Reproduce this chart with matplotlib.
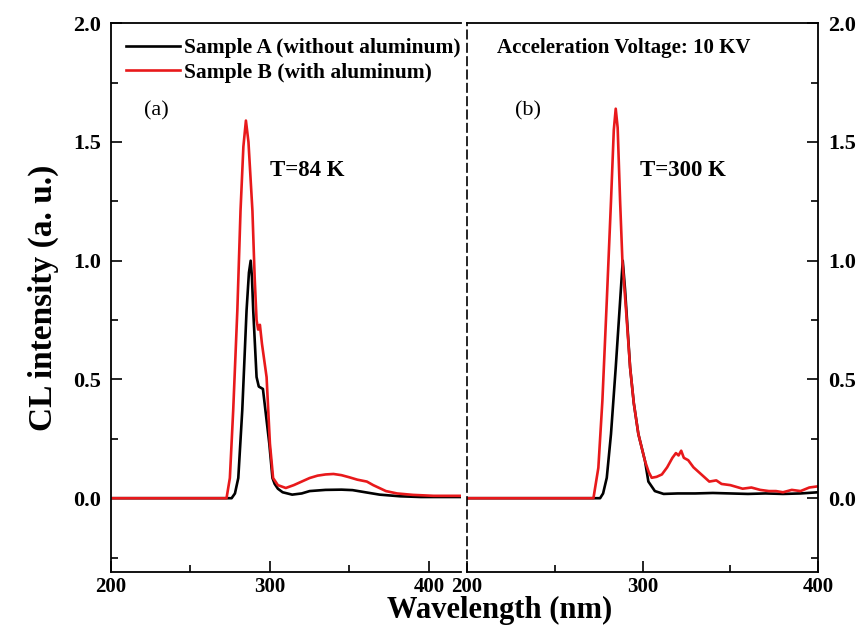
import numpy as np
import matplotlib
matplotlib.use('Agg')
import matplotlib.pyplot as plt
from matplotlib.ticker import MultipleLocator

plt.rcParams['font.family'] = ['Liberation Serif', 'DejaVu Serif']

# panel (a), T = 84 K
wl_a_A = [200, 275.9, 278, 280.1, 282.6, 285.3, 286.8, 287.9, 288.7, 289.5, 291.6, 293,
          295.6, 297, 299.6, 301.6, 303, 305, 308, 314, 320, 325, 335, 345,
          352, 360, 369, 382, 395, 420]
cl_a_A = [0, 0, 0.02, 0.085, 0.37, 0.79, 0.95, 1.0, 0.93, 0.79, 0.51, 0.47,
          0.46, 0.38, 0.23, 0.085, 0.06, 0.04, 0.025, 0.015, 0.02, 0.03, 0.035, 0.036,
          0.034, 0.025, 0.015, 0.008, 0.005, 0.005]
wl_a_B = [200, 272.7, 274.8, 276.9, 279.5, 281.5, 283.3, 284.9, 286.5, 289, 290.4, 291.6,
          292.6, 293.7, 295, 297.9, 300, 302, 305, 310, 315, 320, 325,
          330, 335, 340, 345, 350, 355, 361, 365, 373, 380, 390, 403, 420]
cl_a_B = [0, 0, 0.085, 0.37, 0.79, 1.21, 1.48, 1.59, 1.5, 1.21, 0.93, 0.75,
          0.71, 0.73, 0.65, 0.51, 0.23, 0.085, 0.055, 0.043, 0.055, 0.07, 0.085,
          0.095, 0.1, 0.102, 0.097, 0.088, 0.078, 0.07, 0.055, 0.03, 0.02, 0.014, 0.01, 0.01]

# panel (b), T = 300 K
wl_b_A = [200, 275.8, 277.5, 279.6, 282, 284.7, 287.2, 288.7, 290, 292.9, 295, 297.6,
          301.4, 303.3, 307, 312, 320, 330, 340, 350, 360, 370, 380, 390, 400]
cl_b_A = [0, 0, 0.02, 0.086, 0.27, 0.55, 0.83, 1.0, 0.88, 0.55, 0.4, 0.27,
          0.156, 0.07, 0.03, 0.018, 0.02, 0.02, 0.022, 0.02, 0.018, 0.02, 0.018, 0.02, 0.025]
wl_b_B = [200, 272, 274.8, 277.1, 279.6, 282, 283.6, 284.7, 285.8, 287.2, 288.5, 290.5,
          292.9, 295, 297.6, 301.4, 303.5, 305.2, 308, 311, 314, 317, 319,
          320.5, 322, 323.5, 326, 329, 332, 335, 338, 342, 345, 350, 357, 362, 367, 372,
          376, 380, 385, 390, 395, 400]
cl_b_B = [0, 0, 0.128, 0.41, 0.83, 1.25, 1.55, 1.64, 1.56, 1.25, 1.0, 0.8,
          0.55, 0.4, 0.27, 0.156, 0.11, 0.086, 0.09, 0.1, 0.13, 0.17, 0.19,
          0.18, 0.2, 0.17, 0.16, 0.13, 0.11, 0.09, 0.07, 0.075, 0.06, 0.055, 0.04, 0.045, 0.035, 0.03,
          0.03, 0.025, 0.035, 0.03, 0.045, 0.05]

ticks_y = [0, 0.5, 1.0, 1.5, 2.0]
ticks_x = [200, 300, 400]

red = '#e8191b'
fig = plt.figure(figsize=(8.57, 6.27), dpi=100)
ax1 = fig.add_axes([0.1295, 0.088, 0.408, 0.875])
ax2 = fig.add_axes([0.545, 0.088, 0.4096, 0.875])

ax1.plot(wl_a_A, cl_a_A, color='black', lw=1.9, label='Sample A (without aluminum)')
ax1.plot(wl_a_B, cl_a_B, color=red, lw=1.9, label='Sample B (with aluminum)')
ax2.plot(wl_b_A, cl_b_A, color='black', lw=1.9)
ax2.plot(wl_b_B, cl_b_B, color=red, lw=1.9)

ax1.set_xlim(200, 420)
ax2.set_xlim(200, 400)
for ax in (ax1, ax2):
    ax.set_ylim(-0.31, 2.0)
    ax.set_xticks(ticks_x)
    ax.set_xticklabels([str(t) for t in ticks_x], fontweight='bold')
    ax.set_yticks(ticks_y)
    ax.set_yticklabels(['%.1f' % t for t in ticks_y], fontweight='bold')
    ax.xaxis.set_minor_locator(MultipleLocator(50))
    ax.yaxis.set_minor_locator(MultipleLocator(0.25))
    ax.tick_params(which='both', direction='in', width=1.2, labelsize=16)
    ax.tick_params(which='major', length=8)
    ax.tick_params(which='minor', length=5)
    ax.tick_params(axis='x', pad=4, labelsize=15)
    ax.tick_params(axis='y', pad=7)
    for s in ax.spines.values():
        s.set_linewidth(1.3)

ax1.spines['right'].set_visible(False)

ax2.spines['left'].set_linestyle((0, (5, 3)))
ax2.spines['left'].set_linewidth(1.2)
ax2.yaxis.tick_right()
ax2.tick_params(axis='y', which='both', left=False, right=True, direction='in')

ax1.set_ylabel('CL intensity (a. u.)', fontsize=24, fontweight='bold', labelpad=10)
fig.text(0.583, 0.003, 'Wavelength (nm)', fontsize=22, fontweight='bold', ha='center', va='bottom')

ax1.legend(loc='upper left', frameon=False, prop={'size': 15.5, 'weight': 'bold'},
           handlelength=2.5, handletextpad=0.2, borderaxespad=0.3, labelspacing=0.2,
           borderpad=0.4)

ax1.text(221, 1.63, '(a)', fontsize=16, va='center', ha='left')
ax1.text(300, 1.38, 'T=84 K', fontsize=16.5, fontweight='bold', va='center', ha='left')
ax2.text(227.4, 1.63, '(b)', fontsize=16, va='center', ha='left')
ax2.text(298.6, 1.38, 'T=300 K', fontsize=16.5, fontweight='bold', va='center', ha='left')
ax2.text(217, 1.895, 'Acceleration Voltage: 10 KV', fontsize=15, fontweight='bold',
         va='center', ha='left')

fig.savefig('out.png', dpi=100)
